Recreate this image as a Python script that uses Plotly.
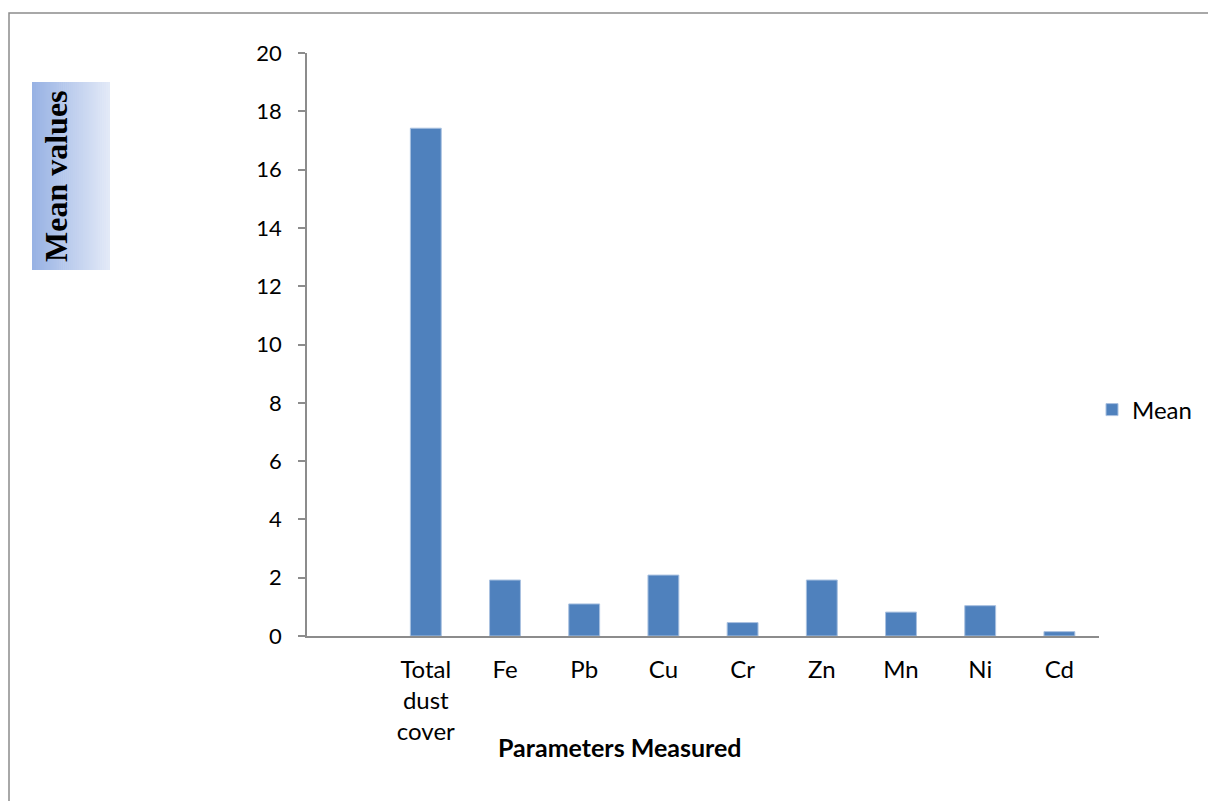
import plotly.graph_objects as go

# Mean values of measured parameters
categories = ["Total<br>dust<br>cover", "Fe", "Pb", "Cu", "Cr", "Zn", "Mn", "Ni", "Cd"]
mean_values = [17.42, 1.92, 1.10, 2.09, 0.46, 1.92, 0.82, 1.04, 0.15]
y_ticks = [0, 2, 4, 6, 8, 10, 12, 14, 16, 18, 20]

W, H = 1208, 801
ML, MR, MT, MB = 307, 109, 53, 165
PW, PH = W - ML - MR, H - MT - MB


def px_x(v):
    return (v - ML) / PW


def px_y(v):
    return (H - MB - v) / PH


fig = go.Figure()
fig.add_trace(go.Bar(
    x=categories,
    y=mean_values,
    name="Mean",
    marker=dict(color="#4F81BD", line=dict(color="#A9C1E0", width=1)),
    showlegend=True,
))

shapes = []
# gradient panel behind the y-axis title
x_left, x_right, y_top, y_bot = 32, 110, 82, 270
c0, c1 = (152, 178, 228), (226, 233, 247)
n = 40
for i in range(n):
    t = i / (n - 1)
    col = tuple(round(c0[k] + (c1[k] - c0[k]) * t) for k in range(3))
    xa = x_left + (x_right - x_left) * i / n
    xb = x_left + (x_right - x_left) * (i + 1) / n + 0.6
    shapes.append(dict(
        type="rect", xref="paper", yref="paper", layer="below",
        x0=px_x(xa), x1=px_x(min(xb, x_right)), y0=px_y(y_bot), y1=px_y(y_top),
        fillcolor="rgb(%d,%d,%d)" % col, line=dict(width=0),
    ))
# outer chart border
shapes.append(dict(
    type="rect", xref="paper", yref="paper", layer="below",
    x0=px_x(9), x1=px_x(1230), y0=px_y(830), y1=px_y(13),
    line=dict(color="#8C8C8C", width=1.5), fillcolor="rgba(0,0,0,0)",
))

annotations = [
    dict(text="<b>Mean values</b>", xref="paper", yref="paper",
         x=px_x(56), y=px_y(176), textangle=-90, showarrow=False,
         font=dict(family="Liberation Serif", size=32, color="black"),
         xanchor="center", yanchor="middle"),
    dict(text="<b>Parameters Measured</b>", xref="paper", yref="paper",
         x=px_x(620), y=px_y(747), showarrow=False,
         font=dict(family="Lato", size=25, color="black"),
         xanchor="center", yanchor="middle"),
]

fig.update_layout(
    width=W, height=H,
    margin=dict(l=ML, r=MR, t=MT, b=MB, pad=0, autoexpand=False),
    paper_bgcolor="white", plot_bgcolor="white",
    bargap=0.61,
    font=dict(family="Lato", size=21, color="black"),
    shapes=shapes,
    annotations=annotations,
    legend=dict(x=px_x(1092), y=px_y(410), xanchor="left", yanchor="middle",
                font=dict(family="Lato", size=24, color="black"),
                bgcolor="rgba(0,0,0,0)", itemwidth=30),
    xaxis=dict(
        type="category", range=[-1.5, 8.5], showline=True,
        linecolor="#8C8C8C", linewidth=2, ticks="", showgrid=False,
        ticklabelstandoff=11, zeroline=False,
        tickfont=dict(family="Lato", size=24, color="black"),
    ),
    yaxis=dict(
        range=[0, 20], tickvals=y_ticks, showline=True,
        linecolor="#8C8C8C", linewidth=1.5, ticks="outside", ticklen=7,
        tickcolor="#8C8C8C", tickwidth=1.5, showgrid=False, zeroline=False,
        ticklabelstandoff=12,
        tickfont=dict(family="Lato", size=22, color="black"),
    ),
)

fig.write_html("out.html")
